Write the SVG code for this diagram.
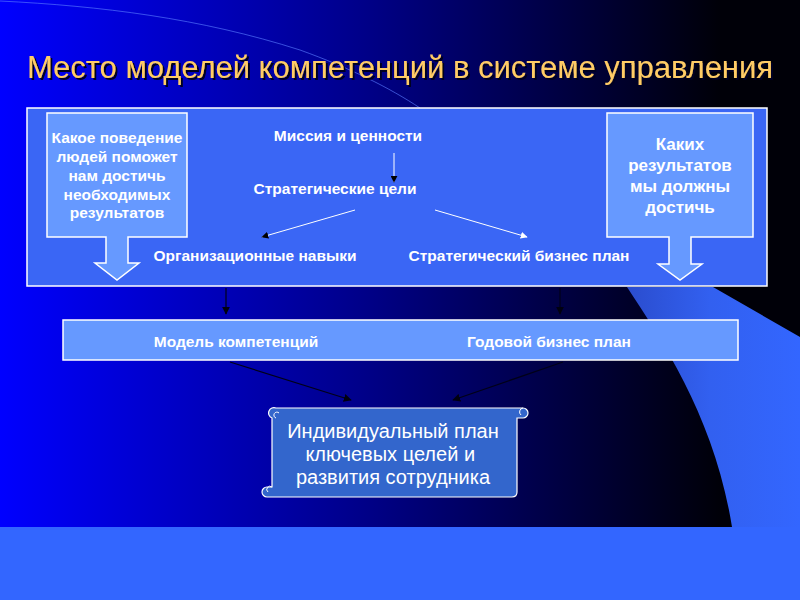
<svg xmlns="http://www.w3.org/2000/svg" width="800" height="600" viewBox="0 0 800 600">
<defs>
<linearGradient id="bg" x1="0" y1="0" x2="720" y2="0" gradientUnits="userSpaceOnUse">
<stop offset="0" stop-color="#0000FF"/>
<stop offset="0.5" stop-color="#00008A"/>
<stop offset="1" stop-color="#000008"/>
</linearGradient>
<linearGradient id="sw" x1="620" y1="0" x2="800" y2="0" gradientUnits="userSpaceOnUse">
<stop offset="0" stop-color="#2A4BCB"/>
<stop offset="0.5" stop-color="#3260F0"/>
<stop offset="1" stop-color="#3366FF"/>
</linearGradient>
<filter id="shadow" x="-5%" y="-30%" width="110%" height="160%">
<feDropShadow dx="2" dy="2" stdDeviation="0.6" flood-color="#000020" flood-opacity="1"/>
</filter>
<marker id="ahB" viewBox="0 0 10 10" refX="9" refY="5" markerWidth="7" markerHeight="7" markerUnits="userSpaceOnUse" orient="auto"><path d="M0,0 L10,5 L0,10 Z" fill="#000"/></marker>
<marker id="ahW" viewBox="0 0 10 10" refX="9" refY="5" markerWidth="7" markerHeight="7" markerUnits="userSpaceOnUse" orient="auto"><path d="M0,0 L10,5 L0,10 Z" fill="#fff"/></marker>
<marker id="ahD" viewBox="0 0 10 10" refX="9" refY="5" markerWidth="8" markerHeight="8" markerUnits="userSpaceOnUse" orient="auto"><path d="M0,0 L10,5 L0,10 Z" fill="#000010"/></marker>
</defs>
<style>
.box{fill:#6699FF;stroke:#fff;stroke-width:1.5}
.panel{fill:#3A66F5;stroke:#fff;stroke-width:1.5}
.lbl{font-family:"Liberation Sans",Arial,sans-serif;font-weight:bold;fill:#fff;text-anchor:middle}
.t15{font-size:15.5px}
.t17{font-size:17px}
.scr{font-family:"Liberation Sans",Arial,sans-serif;font-size:20px;fill:#fff;text-anchor:middle}
.wl{stroke:#fff;stroke-width:1;fill:none}
.dl{stroke:#000018;stroke-width:1.2;fill:none}
.title{font-family:"Liberation Sans",Arial,sans-serif;font-size:31px;fill:#FFCC66}
</style>
<rect x="0" y="0" width="800" height="600" fill="url(#bg)"/>
<path d="M627,287 C665,345 715,420 732,527 H800 V337 L713,287 Z" fill="url(#sw)"/>
<rect x="0" y="527" width="800" height="73" fill="#3366FF"/>
<path d="M0,1 C100,6 200,18 300,50 C350,68 390,88 420,108" fill="none" stroke="#5A7CFF" stroke-width="0.8" opacity="0.8"/>
<g id="title">
<text class="title" x="27" y="78" textLength="746" lengthAdjust="spacingAndGlyphs" filter="url(#shadow)">Место моделей компетенций в системе управления</text>
</g>
<g id="panel"><rect class="panel" x="27" y="108" width="740" height="178"/></g>
<g id="left-box">
<path class="box" d="M47,113 H187 V237 H128 V263 H139 L117,280 L95,263 H106 V237 H47 Z"/>
<text class="lbl t15" x="117"><tspan x="117" y="143">Какое поведение</tspan><tspan x="117" y="162">людей поможет</tspan><tspan x="117" y="181">нам достичь</tspan><tspan x="117" y="200">необходимых</tspan><tspan x="117" y="218">результатов</tspan></text>
</g>
<g id="right-box">
<path class="box" d="M607,113 H753 V237 H691 V264 H702 L680,280 L658,264 H669 V237 H607 Z"/>
<text class="lbl t17" x="680"><tspan x="680" y="150">Каких</tspan><tspan x="680" y="171">результатов</tspan><tspan x="680" y="192">мы должны</tspan><tspan x="680" y="213">достичь</tspan></text>
</g>
<g id="mission"><text class="lbl t15" x="348" y="141">Миссия и ценности</text></g>
<g id="goals"><text class="lbl t15" x="335" y="194">Стратегические цели</text></g>
<g id="org-skills"><text class="lbl t15" x="255" y="261">Организационные навыки</text></g>
<g id="biz-plan"><text class="lbl t15" x="519" y="261">Стратегический бизнес план</text></g>
<g id="mid-box">
<rect class="box" x="63" y="320" width="675" height="40"/>
<text class="lbl t15" x="236" y="347">Модель компетенций</text>
<text class="lbl t15" x="549" y="347">Годовой бизнес план</text>
</g>
<g id="scroll">
<path d="M276,408 H523 A5,5 0 0 1 523,418 H517 V492 Q517,497 512,497 H267 A5,5 0 0 1 267,487 H272 V418 A5,5 0 0 1 276,408 Z" fill="#3366CC" stroke="#fff" stroke-width="1.2"/>
<path d="M276,418 A3,3 0 1 1 279,413" fill="none" stroke="#fff" stroke-width="1"/>
<path d="M523,408 A4,4 0 0 0 521,415" fill="none" stroke="#fff" stroke-width="1"/>
<path d="M272,487 A3,3 0 1 0 268,492" fill="none" stroke="#fff" stroke-width="1"/>
<text class="scr"><tspan x="393" y="438">Индивидуальный план</tspan><tspan x="393" y="461">ключевых целей и </tspan><tspan x="393" y="484">развития сотрудника</tspan></text>
</g>
<g id="connectors">
<line class="wl" x1="394" y1="153" x2="394" y2="182" marker-end="url(#ahB)"/>
<line class="wl" x1="355" y1="210" x2="262" y2="237" marker-end="url(#ahB)"/>
<line class="wl" x1="435" y1="210" x2="527" y2="237" marker-end="url(#ahW)"/>
<line class="dl" x1="226" y1="288" x2="226" y2="314" marker-end="url(#ahD)"/>
<line class="dl" x1="560" y1="288" x2="560" y2="314" marker-end="url(#ahD)"/>
<line class="dl" x1="230" y1="362" x2="351" y2="400" marker-end="url(#ahD)"/>
<line class="dl" x1="563" y1="362" x2="453" y2="400" marker-end="url(#ahD)"/>
</g>
</svg>
